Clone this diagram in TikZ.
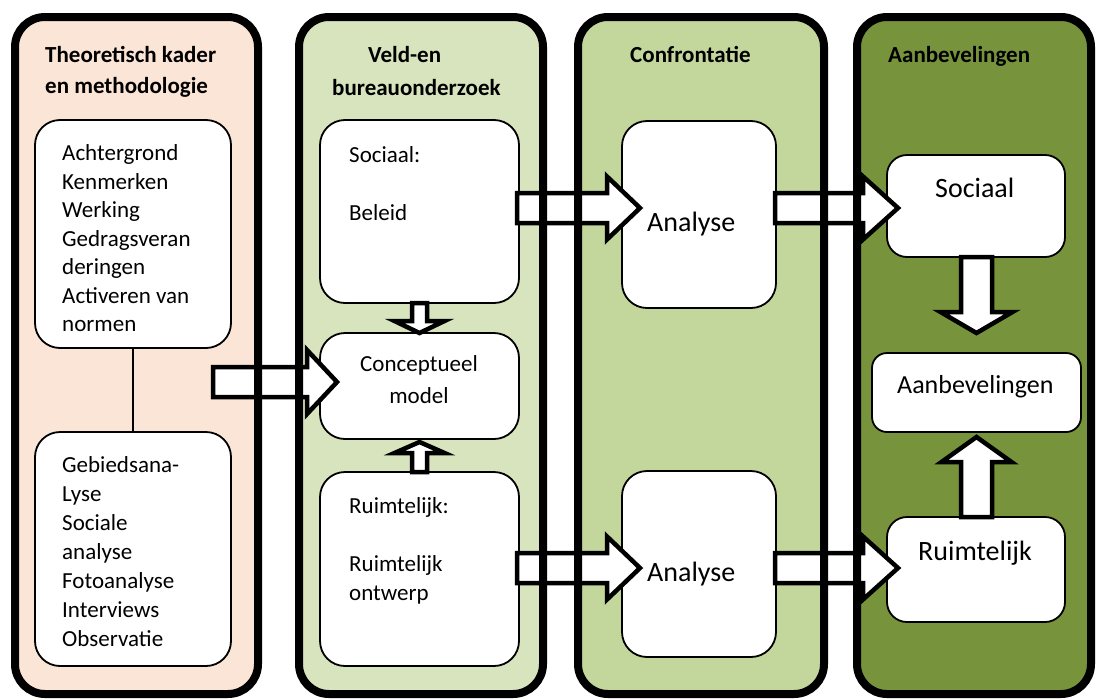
\documentclass[tikz,border=0pt]{standalone}
\usepackage{fontspec}
\setmainfont{Carlito}
\usetikzlibrary{calc}

\definecolor{theorycol}{HTML}{FBE5D6}
\definecolor{fieldcol}{HTML}{D7E4BD}
\definecolor{confrontcol}{HTML}{C3D69B}
\definecolor{advicecol}{HTML}{77933C}

% block arrows: from, to, shaft half width, head half width, head length
\newcommand{\blockh}[5]{%
  \draw[blockarrow] let \p1=#1, \p2=#2 in
    ({\x1},{\y1+#3}) -- ({\x2-#5},{\y1+#3}) -- ({\x2-#5},{\y1+#4}) -- ({\x2},{\y1})
    -- ({\x2-#5},{\y1-#4}) -- ({\x2-#5},{\y1-#3}) -- ({\x1},{\y1-#3}) -- cycle;}
\newcommand{\blockv}[5]{%
  \draw[blockarrow] let \p1=#1, \p2=#2 in
    ({\x2+#3},{\y1}) -- ({\x2+#3},{\y2+(#5)}) -- ({\x2+#4},{\y2+(#5)}) -- ({\x2},{\y2})
    -- ({\x2-#4},{\y2+(#5)}) -- ({\x2-#3},{\y2+(#5)}) -- ({\x2-#3},{\y1}) -- cycle;}

\begin{document}
\begin{tikzpicture}[
      x=1pt, y=-1pt,
      colfill/.style={
        rectangle, rounded corners=30pt, draw=none,
        inner sep=0pt, outer sep=0pt,
        minimum height=677pt
      },
      colborder/.style={draw=black, line width=8pt, rounded corners=30pt},
      innerbox/.style={
        rectangle, draw, line width=1.8pt, rounded corners=25pt,
        fill=white, inner sep=0pt, outer sep=0pt
      },
      headtext/.style={
        font=\fontsize{23}{31}\selectfont\bfseries,
        align=left, anchor=base west, inner sep=0pt
      },
      listtext/.style={
        font=\fontsize{23}{28.5}\selectfont,
        align=left, anchor=base west, inner sep=0pt
      },
      bigtext/.style={font=\fontsize{28}{34}\selectfont, anchor=base west, inner sep=0pt},
      blockarrow/.style={draw=black, fill=white, line width=4.5pt, line join=miter}
    ]
    \useasboundingbox (0,0) rectangle (1097,699);

    % ===== Columns (fill only, borders come last) =====
    \node[colfill, fill=theorycol, minimum width=243pt] (c1) at (136.5,355.5) {};
    \node[colfill, fill=fieldcol, minimum width=244pt] (c2) at (421,355.5) {};
    \node[colfill, fill=confrontcol, minimum width=246pt] (c3) at (701,355.5) {};
    \node[colfill, fill=advicecol, minimum width=234pt] (c4) at (974,355.5) {};

    % ===== Column headings (base = last line) =====
    \node[headtext] (theoryhead) at (45,93) {Theoretisch kader\\en methodologie};
    \node[headtext, font=\fontsize{23}{33}\selectfont\bfseries] (fieldhead) at (332,95)
      {\hspace*{36pt}Veld-en\\bureauonderzoek};
    \node[headtext] (confronthead) at (630,62) {Confrontatie};
    \node[headtext] (advicehead) at (888,62) {Aanbevelingen};

    % ===== Theory column =====
    \node[innerbox, minimum width=196pt, minimum height=228pt] (theory) at (133,234) {};
    \node[innerbox, minimum width=196pt, minimum height=234pt] (methods) at (133,549) {};
    \node[listtext] (theorytxt) at (62,331.7) {Achtergrond\\Kenmerken\\Werking\\
      Gedragsveran\\deringen\\Activeren van\\normen};
    \node[listtext, font=\fontsize{23}{29}\selectfont] (methodstxt) at (62,646.7)
      {Gebiedsana-\\Lyse\\Sociale\\analyse\\Fotoanalyse\\Interviews\\Observatie};
    \draw[line width=1.5pt] (theory.south) -- (methods.north);

    % ===== Field column =====
    \node[innerbox, minimum width=199pt, minimum height=183pt] (soc) at (419.5,211.5) {};
    \node[innerbox, minimum width=199pt, minimum height=106pt] (concept) at (419.5,386) {};
    \node[innerbox, minimum width=199pt, minimum height=194pt] (ruim) at (419.5,569) {};
    \node[listtext, font=\fontsize{23}{29}\selectfont] (soctxt) at (349,220)
      {Sociaal:\\[29pt]Beleid};
    \node[listtext, font=\fontsize{23}{32}\selectfont, align=center, anchor=base]
      (concepttxt) at (419,403) {Conceptueel\\model};
    \node[listtext, font=\fontsize{23}{29}\selectfont] (ruimtxt) at (349,600)
      {Ruimtelijk:\\[29pt]Ruimtelijk\\ontwerp};

    % ===== Confrontation column =====
    \node[innerbox, minimum width=154pt, minimum height=187pt] (ana1) at (699,214.5) {};
    \node[innerbox, minimum width=154pt, minimum height=186pt] (ana2) at (699,564) {};
    \node[bigtext] (ana1txt) at (647,231.7) {Analyse};
    \node[bigtext] (ana2txt) at (647,581.7) {Analyse};

    % ===== Advice column =====
    \node[innerbox, rounded corners=20pt, minimum width=178pt, minimum height=102pt]
      (rsoc) at (976,206) {};
    \node[innerbox, rounded corners=15pt, minimum width=209pt, minimum height=79pt]
      (rec) at (976.5,392.5) {};
    \node[innerbox, rounded corners=20pt, minimum width=178pt, minimum height=105pt]
      (rruim) at (976,569.5) {};
    \node[bigtext] (rsoctxt) at (935,197) {Sociaal};
    \node[bigtext, font=\fontsize{26}{32}\selectfont] (rectxt) at (897,393) {Aanbevelingen};
    \node[bigtext] (rruimtxt) at (918,560) {Ruimtelijk};

    % ===== Block arrows =====
    \coordinate (feed) at (213,382);
    \blockh{(feed)}{($(concept.west)+(17,0)$)}{15}{32}{30}
    \blockh{($(soc.east)+(-2,-3.5)$)}{($(ana1.west)+(18,0)$)}{15}{31.5}{33}
    \blockh{($(ana1.east)+(-1,-6.5)$)}{($(rsoc.west)+(11,0)$)}{15}{31.5}{35}
    \blockh{($(ruim.east)+(-2,-1)$)}{($(ana2.west)+(18,0)$)}{15}{31.5}{33}
    \blockh{($(ana2.east)+(-1,4)$)}{($(rruim.west)+(11,0)$)}{15}{31.5}{35}
    \blockv{(soc.south)}{(concept.north)}{7.5}{25}{12}
    \blockv{(ruim.north)}{($(concept.south)+(0,3)$)}{7.5}{25}{-11}
    \blockv{(rsoc.south)}{($(rec.north)+(0,-20)$)}{15.5}{36}{21}
    \blockv{(rruim.north)}{($(rec.south)+(0,5)$)}{15.5}{35}{-25}

    % ===== Column borders on top =====
    \foreach \col in {c1,c2,c3,c4}
      \draw[colborder] (\col.south west) rectangle (\col.north east);
  \end{tikzpicture}
\end{document}
